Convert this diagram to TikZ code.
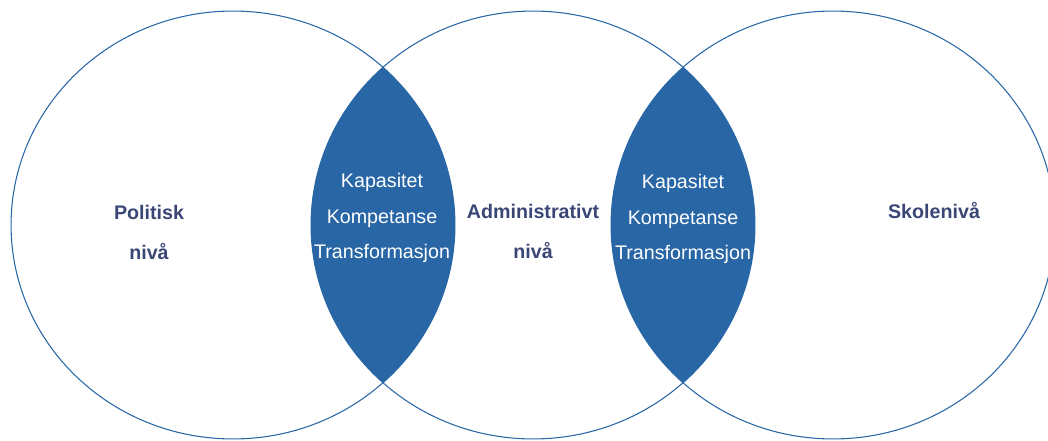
\documentclass[tikz,border=0pt]{standalone}
\usepackage{fontspec}
\setmainfont{Liberation Sans}
\definecolor{lensblue}{RGB}{40,102,166}
\definecolor{labelnavy}{RGB}{58,71,118}
\tikzset{ring/.style={draw=lensblue,line width=0.6pt},
  level/.style={font=\fontsize{11.2}{22.8}\selectfont\bfseries,text=labelnavy,align=center},
  lens/.style={font=\fontsize{11.2}{20.2}\selectfont,text=white,align=center}}

\begin{document}
\begin{tikzpicture}[x=0.02cm,y=-0.02cm]
\useasboundingbox (0,0) rectangle (1048,440);
\coordinate (L) at (233,225);
\coordinate (M) at (533,225);
\coordinate (R) at (833,225);
% overlaps
\begin{scope}
\clip (L) ellipse [x radius=4.44cm,y radius=4.28cm];
\fill[lensblue] (M) ellipse [x radius=4.44cm,y radius=4.28cm];
\end{scope}
\begin{scope}
\clip (M) ellipse [x radius=4.44cm,y radius=4.28cm];
\fill[lensblue] (R) ellipse [x radius=4.44cm,y radius=4.28cm];
\end{scope}
\draw[ring] (L) ellipse [x radius=4.44cm,y radius=4.28cm];
\draw[ring] (M) ellipse [x radius=4.44cm,y radius=4.28cm];
\draw[ring] (R) ellipse [x radius=4.44cm,y radius=4.28cm];
\node[level] (P) at (149,232) {Politisk\\niv\aa};
\node[level] (A) at (533,231) {Administrativt\\niv\aa};
\node[level] (S) at (934,210) {Skoleniv\aa};
\node[lens] (K1) at (382,218) {Kapasitet\\Kompetanse\\Transformasjon};
\node[lens] (K2) at (683,219) {Kapasitet\\Kompetanse\\Transformasjon};
\end{tikzpicture}
\end{document}
